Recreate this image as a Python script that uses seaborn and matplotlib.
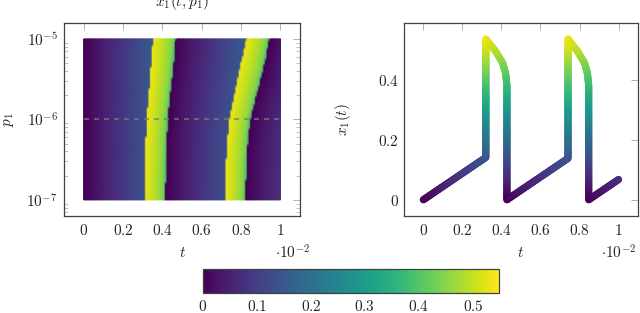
import numpy as np
import matplotlib
matplotlib.use("Agg")
import matplotlib.pyplot as plt
import matplotlib.ticker as mticker
from matplotlib.colors import Normalize
from matplotlib.cm import ScalarMappable
import seaborn as sns

sns.set_style("white")
plt.rcParams['mathtext.fontset'] = 'cm'
plt.rcParams['font.family'] = ['DejaVu Serif']

# ---------------- data ----------------
# band boundaries of x1(t, p1) at several p1 levels (t in units of 1e-2)
log_p_rows = [-7.0, -6.5, -6.25, -6.0, -5.75, -5.5, -5.25, -5.0]
jump1 = [0.310, 0.313, 0.316, 0.320, 0.328, 0.337, 0.345, 0.352]
drop1 = [0.415, 0.419, 0.423, 0.428, 0.438, 0.449, 0.459, 0.467]
jump2 = [0.719, 0.725, 0.731, 0.741, 0.760, 0.782, 0.804, 0.826]
drop2 = [0.822, 0.828, 0.835, 0.847, 0.872, 0.900, 0.924, 0.944]
ramp_slope = 0.44                       # growth of x1 per unit t between spikes
band_s = [0.0, 0.45, 0.80, 0.94, 1.0]   # fraction of the way through a spike
band_v = [0.535, 0.495, 0.455, 0.42, 0.38]
p_slice = -6.0                          # log10 p1 of the slice on the right
t_range = [0.0, 1.0]
logp_range = [-7.0, -5.0]
vmax = 0.548

x_ticks = [0, 0.2, 0.4, 0.6, 0.8, 1.0]
x_ticklabels = ['0', '0.2', '0.4', '0.6', '0.8', '1']
p_ticks = [1e-7, 1e-6, 1e-5]
p_ticklabels = [r'$10^{-7}$', r'$10^{-6}$', r'$10^{-5}$']
y_ticks = [0, 0.2, 0.4]
y_ticklabels = ['0', '0.2', '0.4']
cb_ticks = [0, 0.1, 0.2, 0.3, 0.4, 0.5]
cb_ticklabels = ['0', '0.1', '0.2', '0.3', '0.4', '0.5']


def x1_value(t, j1, d1, j2, d2):
    if t < j1:
        return ramp_slope * t
    if t < d1:
        return np.interp((t - j1) / (d1 - j1), band_s, band_v)
    if t < j2:
        return ramp_slope * (t - d1)
    if t < d2:
        return np.interp((t - j2) / (d2 - j2), band_s, band_v)
    return ramp_slope * (t - d2)


def bounds(lp):
    return (np.interp(lp, log_p_rows, jump1), np.interp(lp, log_p_rows, drop1),
            np.interp(lp, log_p_rows, jump2), np.interp(lp, log_p_rows, drop2))


# grid for the heatmap
t_grid = np.linspace(t_range[0], t_range[1], 121)
lp_grid = np.linspace(logp_range[0], logp_range[1], 61)
Z = np.array([[x1_value(t, *bounds(lp)) for t in t_grid] for lp in lp_grid])

# vertices of the slice curve
j1, d1, j2, d2 = bounds(p_slice)
verts = [(0.0, 0.0), (j1, ramp_slope * j1)]
verts += [(j1 + s * (d1 - j1), v) for s, v in zip(band_s, band_v)]
verts += [(d1, 0.0), (j2, ramp_slope * (j2 - d1))]
verts += [(j2 + s * (d2 - j2), v) for s, v in zip(band_s, band_v)]
verts += [(d2, 0.0), (t_range[1], ramp_slope * (t_range[1] - d2))]
verts = np.array(verts)

# densify the polyline for the gradient-coloured thick stroke (drawing only)
sx, sy = 195.0, 297.5
pts = []
for a, b in zip(verts[:-1], verts[1:]):
    L = np.hypot((b[0] - a[0]) * sx, (b[1] - a[1]) * sy)
    n = max(int(np.ceil(L / 1.0)), 1)
    f = np.linspace(0, 1, n, endpoint=False)
    pts.append(a + f[:, None] * (b - a))
pts.append(verts[-1:])
pts = np.vstack(pts)

# ---------------- figure ----------------
fig = plt.figure(figsize=(6.4, 3.13), dpi=100)
ax1 = fig.add_axes([0.1, 0.31, 0.369, 0.617])
ax2 = fig.add_axes([0.631, 0.31, 0.366, 0.617])
cax = fig.add_axes([0.317, 0.064, 0.4625, 0.077])

norm = Normalize(0, vmax)
FS = 11
tick_col = '#a6a6a6'
spine_col = '#404040'

ax1.pcolormesh(t_grid, 10.0 ** lp_grid, Z, shading='gouraud', cmap='viridis', norm=norm)
ax1.set_yscale('log')
ax1.hlines(10.0 ** p_slice, t_range[0], t_range[1], colors='#7a7a7a', alpha=0.85,
           linewidth=1.2, linestyles=(0, (3, 3)))
ax1.set_xlim(-0.1, 1.1)
ax1.set_ylim(10 ** -7.2, 10 ** -4.8)
ax1.set_yticks(p_ticks)
ax1.set_yticklabels(p_ticklabels)
ax1.yaxis.set_minor_locator(mticker.LogLocator(base=10, subs=np.arange(2, 10), numticks=20))
ax1.yaxis.set_minor_formatter(mticker.NullFormatter())
ax1.set_title(r'$x_1(t,p_1)$', fontsize=FS, pad=12)
ax1.set_ylabel(r'$p_1$', fontsize=FS)
ax1.yaxis.set_label_coords(-0.205, 0.5)

sns.scatterplot(x=pts[:, 0], y=pts[:, 1], hue=pts[:, 1], palette='viridis',
                hue_norm=(0, vmax), s=27, linewidth=0, legend=False, ax=ax2)
ax2.set_xlim(-0.1, 1.1)
ax2.set_ylim(-0.054, 0.5885)
ax2.set_yticks(y_ticks)
ax2.set_yticklabels(['$%s$' % s for s in y_ticklabels])
ax2.set_ylabel(r'$x_1(t)$', fontsize=FS)
ax2.yaxis.set_label_coords(-0.218, 0.5)

for ax in (ax1, ax2):
    ax.set_xticks(x_ticks)
    ax.set_xticklabels(['$%s$' % s for s in x_ticklabels])
    ax.set_xlabel(r'$t$', fontsize=FS)
    ax.xaxis.set_label_coords(0.5, -0.155)
    ax.text(0.97 if ax is ax1 else 0.915, -0.145, r'$\cdot 10^{-2}$', transform=ax.transAxes,
            ha='center', va='top', fontsize=FS)
    ax.tick_params(which='major', direction='in', length=5, width=0.6, color=tick_col,
                   top=True, right=True, labelsize=FS)
    ax.tick_params(which='minor', direction='in', length=2.6, width=0.5, color=tick_col,
                   left=True, right=True)
    ax.tick_params(axis='x', pad=5)
    for sp in ax.spines.values():
        sp.set_color(spine_col)
        sp.set_linewidth(0.9)
ax1.tick_params(axis='y', pad=4.5)
ax2.tick_params(axis='y', pad=3.6)

cb = fig.colorbar(ScalarMappable(norm=norm, cmap='viridis'), cax=cax, orientation='horizontal')
cb.set_ticks(cb_ticks)
cb.set_ticklabels(['$%s$' % s for s in cb_ticklabels])
cax.tick_params(direction='in', length=4, width=0.6, color=tick_col, top=True, bottom=True,
                labelsize=FS, pad=4)
cb.outline.set_edgecolor(spine_col)
cb.outline.set_linewidth(0.9)

fig.savefig('out.png', dpi=100)
